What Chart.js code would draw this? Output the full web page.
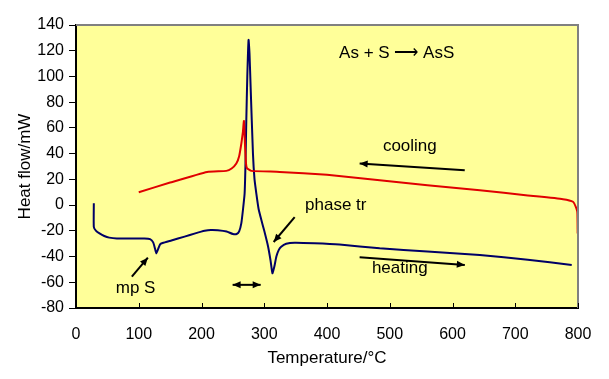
<!DOCTYPE html>
<html>
<head>
<meta charset="utf-8">
<script src="https://cdn.jsdelivr.net/npm/chart.js@4.4.1/dist/chart.umd.min.js"></script>
<style>
html, body { margin: 0; padding: 0; background: #fff; }
</style>
</head>
<body>
<canvas id="dsc" width="609" height="379"></canvas>
<script>
// heating run (navy)
const heatT = [28.4, 28.4, 32, 37.5, 45, 53, 65, 90, 109, 118, 123, 126, 128, 131, 134, 138, 152, 173, 190, 205, 215, 226, 240, 250, 256, 260, 263.5, 266, 268.7, 270, 271.4, 273, 275, 276.5, 278.3, 282, 284.5, 287.4, 291, 295.4, 300, 306, 310, 313, 316, 319.3, 323, 327, 335, 348.5, 380, 420, 484, 560, 643.5, 720, 790]
const heatQ = [1.5, -17, -20, -22, -24, -25.3, -26, -26, -26, -26.5, -29, -34, -37.5, -34, -30.5, -29.5, -27.5, -24.5, -22, -20, -19.3, -19.5, -20.5, -22.5, -22.5, -20.5, -14, -4, 9, 30, 66, 100, 128.4, 118, 91.7, 40, 20, 9, -3, -11.6, -20, -32, -43, -53, -48, -40, -35, -32.3, -30, -29.2, -29.6, -30.6, -33.6, -36, -38.8, -42.5, -46.5]

// cooling run (red)
const coolT = [100, 150, 209, 239.5, 248, 255.5, 260, 263.5, 266, 267.6, 269.5, 271, 272.4, 279.4, 324.6, 400, 484, 560, 643.5, 720, 776, 792, 797, 799, 799.5]
const coolQ = [10, 17.5, 25.8, 26.6, 28.5, 32.4, 38, 47.9, 57, 65.4, 45, 32, 28.7, 26.6, 25.8, 23.5, 19.4, 15.5, 11.6, 7.5, 4.6, 2.6, -2, -6, -22]

const xTicks = [0, 100, 200, 300, 400, 500, 600, 700, 800]
const yTicks = [-80, -60, -40, -20, 0, 20, 40, 60, 80, 100, 120, 140]

// text labels and arrows, in data units
const notes = [
    { text: 'As + S \u27F6 AsS', x: 511, y: 118 },
    { text: 'cooling', x: 532, y: 45.5 },
    { text: 'phase tr', x: 414, y: 0 },
    { text: 'heating', x: 516, y: -49 },
    { text: 'mp S', x: 95, y: -65 }
]
const arrows = [
    { x1: 619.5, y1: 27.1, x2: 452, y2: 32.3, both: false },
    { x1: 348.5, y1: -9.3, x2: 315, y2: -28.7, both: false },
    { x1: 452, y1: -40.5, x2: 619.6, y2: -46.5, both: false },
    { x1: 89, y1: -55.6, x2: 114.5, y2: -40.9, both: false },
    { x1: 249.6, y1: -62, x2: 294.3, y2: -62, both: true }
]

const FONT = '"Liberation Sans", Arial, sans-serif'
Chart.defaults.font.family = FONT
Chart.defaults.color = '#000'

function pairs(xs, ys) {
    return xs.map((x, i) => ({ x: x, y: ys[i] }))
}

function head(ctx, x1, y1, x2, y2) {
    const a = Math.atan2(y2 - y1, x2 - x1)
    const len = 8, w = 3.5
    ctx.beginPath()
    ctx.moveTo(x2, y2)
    ctx.lineTo(x2 - len * Math.cos(a) + w * Math.sin(a), y2 - len * Math.sin(a) - w * Math.cos(a))
    ctx.lineTo(x2 - len * Math.cos(a) - w * Math.sin(a), y2 - len * Math.sin(a) + w * Math.cos(a))
    ctx.closePath()
    ctx.fill()
}

const plotDecor = {
    id: 'plotDecor',
    beforeDraw(chart) {
        const { ctx, chartArea: a } = chart
        ctx.save()
        ctx.fillStyle = '#FFFF99'
        ctx.fillRect(a.left, a.top, a.right - a.left, a.bottom - a.top)
        ctx.restore()
    },
    afterDraw(chart) {
        const { ctx, chartArea: a, scales } = chart
        ctx.save()
        // gray top and right frame
        ctx.strokeStyle = '#808080'
        ctx.lineWidth = 2
        ctx.beginPath()
        ctx.moveTo(a.left, a.top)
        ctx.lineTo(a.right, a.top)
        ctx.lineTo(a.right, a.bottom)
        ctx.stroke()
        // inward x ticks
        ctx.strokeStyle = '#000'
        ctx.lineWidth = 1
        ctx.beginPath()
        xTicks.forEach(v => {
            const px = Math.round(scales.x.getPixelForValue(v)) + 0.5
            ctx.moveTo(px, a.bottom)
            ctx.lineTo(px, a.bottom - 5)
        })
        ctx.stroke()
        // annotations
        ctx.fillStyle = '#000'
        ctx.font = '17px ' + FONT
        ctx.textAlign = 'center'
        ctx.textBaseline = 'middle'
        notes.forEach(n => {
            ctx.fillText(n.text, scales.x.getPixelForValue(n.x), scales.y.getPixelForValue(n.y))
        })
        ctx.strokeStyle = '#000'
        ctx.lineWidth = 2
        arrows.forEach(r => {
            const x1 = scales.x.getPixelForValue(r.x1), y1 = scales.y.getPixelForValue(r.y1)
            const x2 = scales.x.getPixelForValue(r.x2), y2 = scales.y.getPixelForValue(r.y2)
            ctx.beginPath()
            ctx.moveTo(x1, y1)
            ctx.lineTo(x2, y2)
            ctx.stroke()
            head(ctx, x1, y1, x2, y2)
            if (r.both) head(ctx, x2, y2, x1, y1)
        })
        ctx.restore()
    }
}

const myChart = new Chart(document.getElementById('dsc'), {
    type: 'line',
    data: {
        datasets: [{
            label: 'cooling',
            data: pairs(coolT, coolQ),
            borderColor: '#E00000',
            borderWidth: 2,
            pointRadius: 0,
            tension: 0.15
        }, {
            label: 'heating',
            data: pairs(heatT, heatQ),
            borderColor: '#000066',
            borderWidth: 2,
            pointRadius: 0,
            tension: 0.15
        }]
    },
    options: {
        responsive: false,
        animation: false,
        devicePixelRatio: 1,
        layout: { padding: { top: 25, right: 31, left: 0, bottom: 0 } },
        plugins: { legend: { display: false }, tooltip: { enabled: false } },
        scales: {
            x: {
                type: 'linear',
                min: 0,
                max: 800,
                afterBuildTicks: s => { s.ticks = xTicks.map(v => ({ value: v })) },
                afterFit: s => { s.height = 71 },
                grid: { drawOnChartArea: false, drawTicks: false },
                border: { color: '#000', width: 2 },
                ticks: { font: { size: 16 }, color: '#000', padding: 17, maxRotation: 0 },
                title: {
                    display: true,
                    text: 'Temperature/\u00B0C',
                    font: { size: 17 },
                    color: '#000',
                    padding: { top: 0, bottom: 10 }
                }
            },
            y: {
                type: 'linear',
                min: -80,
                max: 140,
                afterBuildTicks: s => { s.ticks = yTicks.map(v => ({ value: v })) },
                afterFit: s => { s.width = 76 },
                grid: { drawOnChartArea: false, tickLength: 7, color: '#000' },
                border: { color: '#000', width: 2 },
                ticks: { font: { size: 16 }, color: '#000', padding: 5 },
                title: {
                    display: true,
                    text: 'Heat flow/mW',
                    font: { size: 17 },
                    color: '#000',
                    padding: { top: 15, bottom: 0 }
                }
            }
        }
    },
    plugins: [plotDecor]
});
</script>
</body>
</html>
